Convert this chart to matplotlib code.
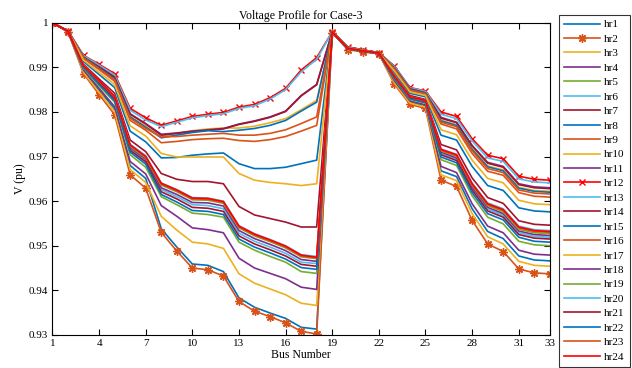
import matplotlib
matplotlib.use("Agg")
from matplotlib import pyplot as plt

plt.rcParams['font.family'] = ['Liberation Serif', 'DejaVu Serif']
plt.rcParams['font.size'] = 8

bus = list(range(1, 34))

# voltage (pu) at each bus, one list per hour
hr1 = [1.0000, 0.9980, 0.9892, 0.9849, 0.9807, 0.9680, 0.9651, 0.9538, 0.9497, 0.9459, 0.9456, 0.9442, 0.9383, 0.9362, 0.9349, 0.9337, 0.9317, 0.9313, 0.9978, 0.9941, 0.9935, 0.9931, 0.9868, 0.9822, 0.9813, 0.9668, 0.9655, 0.9583, 0.9532, 0.9516, 0.9477, 0.9468, 0.9466]
hr2 = [1.0000, 0.9980, 0.9886, 0.9839, 0.9794, 0.9659, 0.9629, 0.9530, 0.9488, 0.9450, 0.9446, 0.9432, 0.9375, 0.9353, 0.9341, 0.9327, 0.9308, 0.9302, 0.9978, 0.9940, 0.9935, 0.9931, 0.9862, 0.9817, 0.9808, 0.9647, 0.9633, 0.9557, 0.9504, 0.9487, 0.9448, 0.9439, 0.9437]
hr3 = [1.0000, 0.9980, 0.9889, 0.9844, 0.9801, 0.9671, 0.9642, 0.9566, 0.9535, 0.9508, 0.9504, 0.9494, 0.9437, 0.9416, 0.9403, 0.9390, 0.9371, 0.9366, 0.9978, 0.9940, 0.9935, 0.9931, 0.9865, 0.9820, 0.9811, 0.9659, 0.9646, 0.9572, 0.9520, 0.9504, 0.9465, 0.9456, 0.9454]
hr4 = [1.0000, 0.9980, 0.9894, 0.9853, 0.9812, 0.9689, 0.9661, 0.9590, 0.9566, 0.9540, 0.9536, 0.9529, 0.9472, 0.9450, 0.9438, 0.9426, 0.9407, 0.9402, 0.9978, 0.9941, 0.9936, 0.9931, 0.9870, 0.9825, 0.9816, 0.9678, 0.9664, 0.9594, 0.9544, 0.9529, 0.9490, 0.9481, 0.9479]
hr5 = [1.0000, 0.9981, 0.9898, 0.9859, 0.9822, 0.9704, 0.9676, 0.9610, 0.9592, 0.9573, 0.9570, 0.9564, 0.9508, 0.9490, 0.9476, 0.9463, 0.9442, 0.9438, 0.9978, 0.9942, 0.9936, 0.9931, 0.9874, 0.9828, 0.9820, 0.9693, 0.9680, 0.9612, 0.9564, 0.9549, 0.9510, 0.9502, 0.9500]
hr6 = [1.0000, 0.9981, 0.9902, 0.9866, 0.9830, 0.9717, 0.9691, 0.9626, 0.9610, 0.9592, 0.9590, 0.9583, 0.9528, 0.9510, 0.9497, 0.9483, 0.9463, 0.9460, 0.9979, 0.9942, 0.9937, 0.9932, 0.9878, 0.9832, 0.9823, 0.9707, 0.9694, 0.9628, 0.9582, 0.9568, 0.9529, 0.9521, 0.9519]
hr7 = [1.0000, 0.9981, 0.9907, 0.9874, 0.9842, 0.9737, 0.9711, 0.9662, 0.9649, 0.9644, 0.9644, 0.9639, 0.9588, 0.9569, 0.9561, 0.9553, 0.9542, 0.9542, 0.9979, 0.9943, 0.9937, 0.9932, 0.9883, 0.9837, 0.9828, 0.9727, 0.9715, 0.9652, 0.9608, 0.9595, 0.9556, 0.9548, 0.9546]
hr8 = [1.0000, 0.9981, 0.9913, 0.9884, 0.9855, 0.9757, 0.9733, 0.9697, 0.9698, 0.9703, 0.9706, 0.9708, 0.9684, 0.9673, 0.9673, 0.9676, 0.9684, 0.9692, 0.9979, 0.9944, 0.9938, 0.9932, 0.9889, 0.9842, 0.9834, 0.9748, 0.9737, 0.9678, 0.9635, 0.9624, 0.9585, 0.9578, 0.9576]
hr9 = [1.0000, 0.9981, 0.9920, 0.9895, 0.9869, 0.9781, 0.9759, 0.9731, 0.9734, 0.9738, 0.9740, 0.9741, 0.9736, 0.9734, 0.9738, 0.9745, 0.9757, 0.9770, 0.9980, 0.9945, 0.9938, 0.9933, 0.9896, 0.9848, 0.9840, 0.9773, 0.9762, 0.9707, 0.9667, 0.9658, 0.9619, 0.9611, 0.9609]
hr10 = [1.0000, 0.9982, 0.9922, 0.9899, 0.9875, 0.9790, 0.9768, 0.9745, 0.9752, 0.9758, 0.9762, 0.9764, 0.9764, 0.9768, 0.9776, 0.9785, 0.9805, 0.9826, 0.9980, 0.9945, 0.9939, 0.9933, 0.9898, 0.9850, 0.9842, 0.9782, 0.9771, 0.9718, 0.9679, 0.9670, 0.9631, 0.9624, 0.9622]
hr11 = [1.0000, 0.9982, 0.9924, 0.9902, 0.9879, 0.9796, 0.9774, 0.9750, 0.9753, 0.9757, 0.9760, 0.9763, 0.9773, 0.9780, 0.9789, 0.9802, 0.9837, 0.9862, 0.9980, 0.9946, 0.9939, 0.9933, 0.9900, 0.9852, 0.9844, 0.9788, 0.9777, 0.9725, 0.9687, 0.9678, 0.9639, 0.9632, 0.9630]
hr12 = [1.0000, 0.9982, 0.9927, 0.9907, 0.9886, 0.9808, 0.9787, 0.9770, 0.9780, 0.9790, 0.9795, 0.9799, 0.9811, 0.9817, 0.9832, 0.9853, 0.9894, 0.9922, 0.9980, 0.9946, 0.9939, 0.9933, 0.9903, 0.9855, 0.9847, 0.9800, 0.9790, 0.9740, 0.9703, 0.9695, 0.9656, 0.9649, 0.9647]
hr13 = [1.0000, 0.9982, 0.9926, 0.9905, 0.9883, 0.9804, 0.9782, 0.9767, 0.9777, 0.9787, 0.9792, 0.9796, 0.9808, 0.9814, 0.9829, 0.9850, 0.9890, 0.9918, 0.9980, 0.9946, 0.9939, 0.9933, 0.9902, 0.9854, 0.9846, 0.9795, 0.9785, 0.9735, 0.9697, 0.9689, 0.9650, 0.9643, 0.9641]
hr14 = [1.0000, 0.9982, 0.9923, 0.9901, 0.9878, 0.9795, 0.9773, 0.9748, 0.9752, 0.9756, 0.9759, 0.9762, 0.9772, 0.9779, 0.9788, 0.9801, 0.9836, 0.9861, 0.9980, 0.9945, 0.9939, 0.9933, 0.9899, 0.9852, 0.9843, 0.9786, 0.9776, 0.9724, 0.9685, 0.9676, 0.9637, 0.9630, 0.9628]
hr15 = [1.0000, 0.9982, 0.9922, 0.9898, 0.9874, 0.9789, 0.9766, 0.9742, 0.9748, 0.9754, 0.9758, 0.9756, 0.9759, 0.9763, 0.9770, 0.9781, 0.9802, 0.9822, 0.9980, 0.9945, 0.9938, 0.9933, 0.9898, 0.9850, 0.9842, 0.9780, 0.9770, 0.9716, 0.9677, 0.9668, 0.9629, 0.9622, 0.9620]
hr16 = [1.0000, 0.9982, 0.9921, 0.9897, 0.9872, 0.9786, 0.9763, 0.9744, 0.9745, 0.9748, 0.9750, 0.9752, 0.9748, 0.9748, 0.9752, 0.9760, 0.9774, 0.9789, 0.9980, 0.9945, 0.9938, 0.9933, 0.9897, 0.9849, 0.9841, 0.9777, 0.9767, 0.9713, 0.9673, 0.9664, 0.9625, 0.9618, 0.9616]
hr17 = [1.0000, 0.9981, 0.9916, 0.9889, 0.9862, 0.9769, 0.9746, 0.9707, 0.9699, 0.9699, 0.9699, 0.9699, 0.9662, 0.9647, 0.9642, 0.9639, 0.9635, 0.9639, 0.9979, 0.9944, 0.9938, 0.9932, 0.9892, 0.9845, 0.9837, 0.9760, 0.9749, 0.9692, 0.9651, 0.9641, 0.9602, 0.9594, 0.9592]
hr18 = [1.0000, 0.9981, 0.9903, 0.9867, 0.9832, 0.9720, 0.9694, 0.9630, 0.9615, 0.9597, 0.9596, 0.9589, 0.9534, 0.9516, 0.9503, 0.9489, 0.9469, 0.9465, 0.9979, 0.9943, 0.9937, 0.9932, 0.9879, 0.9833, 0.9824, 0.9710, 0.9697, 0.9632, 0.9586, 0.9572, 0.9533, 0.9525, 0.9523]
hr19 = [1.0000, 0.9981, 0.9904, 0.9868, 0.9834, 0.9723, 0.9697, 0.9636, 0.9621, 0.9603, 0.9602, 0.9595, 0.9540, 0.9522, 0.9509, 0.9495, 0.9475, 0.9471, 0.9979, 0.9943, 0.9937, 0.9932, 0.9880, 0.9833, 0.9825, 0.9713, 0.9701, 0.9636, 0.9590, 0.9576, 0.9537, 0.9529, 0.9527]
hr20 = [1.0000, 0.9981, 0.9905, 0.9870, 0.9836, 0.9728, 0.9702, 0.9641, 0.9626, 0.9608, 0.9607, 0.9600, 0.9545, 0.9527, 0.9514, 0.9500, 0.9480, 0.9476, 0.9979, 0.9943, 0.9937, 0.9932, 0.9881, 0.9834, 0.9826, 0.9717, 0.9705, 0.9641, 0.9596, 0.9583, 0.9544, 0.9536, 0.9534]
hr21 = [1.0000, 0.9981, 0.9901, 0.9864, 0.9828, 0.9714, 0.9688, 0.9621, 0.9605, 0.9586, 0.9584, 0.9577, 0.9522, 0.9504, 0.9491, 0.9477, 0.9458, 0.9454, 0.9979, 0.9942, 0.9936, 0.9932, 0.9877, 0.9831, 0.9822, 0.9704, 0.9691, 0.9625, 0.9578, 0.9564, 0.9525, 0.9517, 0.9515]
hr22 = [1.0000, 0.9981, 0.9900, 0.9862, 0.9825, 0.9710, 0.9683, 0.9615, 0.9598, 0.9579, 0.9577, 0.9570, 0.9515, 0.9497, 0.9484, 0.9470, 0.9451, 0.9447, 0.9979, 0.9942, 0.9936, 0.9931, 0.9876, 0.9830, 0.9821, 0.9699, 0.9686, 0.9619, 0.9572, 0.9558, 0.9519, 0.9510, 0.9508]
hr23 = [1.0000, 0.9981, 0.9904, 0.9869, 0.9834, 0.9725, 0.9699, 0.9638, 0.9623, 0.9605, 0.9604, 0.9597, 0.9542, 0.9524, 0.9511, 0.9497, 0.9477, 0.9473, 0.9979, 0.9943, 0.9937, 0.9932, 0.9880, 0.9834, 0.9825, 0.9714, 0.9702, 0.9638, 0.9592, 0.9579, 0.9540, 0.9532, 0.9530]
hr24 = [1.0000, 0.9981, 0.9904, 0.9870, 0.9835, 0.9726, 0.9700, 0.9640, 0.9625, 0.9607, 0.9606, 0.9599, 0.9544, 0.9526, 0.9513, 0.9499, 0.9479, 0.9474, 0.9979, 0.9943, 0.9937, 0.9932, 0.9880, 0.9834, 0.9826, 0.9716, 0.9704, 0.9639, 0.9594, 0.9581, 0.9542, 0.9534, 0.9532]

hours = [hr1, hr2, hr3, hr4, hr5, hr6, hr7, hr8, hr9, hr10, hr11, hr12,
         hr13, hr14, hr15, hr16, hr17, hr18, hr19, hr20, hr21, hr22, hr23, hr24]
labels = ['hr%d' % (i + 1) for i in range(24)]

xticks = [1, 4, 7, 10, 13, 16, 19, 22, 25, 28, 31, 33]
yticks = [0.93, 0.94, 0.95, 0.96, 0.97, 0.98, 0.99, 1.0]
ytick_labels = ['0.93', '0.94', '0.95', '0.96', '0.97', '0.98', '0.99', '1']

# matlab default colour order
mcol = ['#0072BD', '#D95319', '#EDB120', '#7E2F8E', '#77AC30', '#4DBEEE', '#A2142F']

fig = plt.figure(figsize=(6.32, 3.68), dpi=100)
ax = fig.add_axes([0.083, 0.09, 0.787, 0.848])

for i, v in enumerate(hours):
    c = mcol[i % 7]
    if labels[i] == 'hr12':
        ax.plot(bus, v, color='#FF0000', lw=1.2, marker='x', ms=4.5, mew=1.0, label=labels[i])
    elif labels[i] == 'hr24':
        ax.plot(bus, v, color='#FF0000', lw=1.2, label=labels[i])
    elif labels[i] == 'hr2':
        ax.plot(bus, v, color=c, lw=1.2, marker=(8, 2, 0), ms=6, mew=1.0, label=labels[i])
    else:
        ax.plot(bus, v, color=c, lw=1.2, label=labels[i])

ax.set_xlim(1, 33)
ax.set_ylim(0.93, 1.0)
ax.set_xticks(xticks)
ax.set_yticks(yticks)
ax.set_yticklabels(ytick_labels)
ax.tick_params(direction='in', top=True, right=True, length=4, width=0.8, labelsize=8, pad=3)
for s in ax.spines.values():
    s.set_linewidth(0.8)

ax.set_title('Voltage Profile for Case-3', fontsize=8.5, pad=3)
ax.set_xlabel('Bus Number', fontsize=8.5, labelpad=1)
ax.set_ylabel('V (pu)', fontsize=8.5, labelpad=2)

leg = ax.legend(loc='upper left', bbox_to_anchor=(0.884, 0.96), bbox_transform=fig.transFigure,
                fontsize=8, frameon=True, fancybox=False, edgecolor='black',
                handlelength=3.3, handletextpad=0.35, labelspacing=0.42, borderpad=0.45,
                borderaxespad=0)
leg.get_frame().set_linewidth(0.8)

fig.savefig('out.png', dpi=100)
